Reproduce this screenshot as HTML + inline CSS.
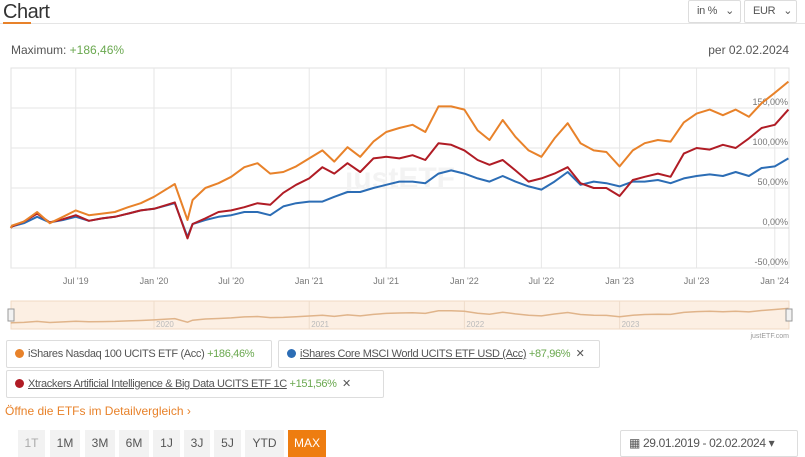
<!DOCTYPE html>
<html><head><meta charset="utf-8"><style>
body{margin:0;width:805px;height:457px;overflow:hidden;background:#fff;font-family:"Liberation Sans",sans-serif;color:#555;position:relative}
.a{position:absolute}
.box{position:absolute;border:1px solid #ddd;border-radius:2px;background:#fff;font-size:11px;letter-spacing:-0.35px;white-space:nowrap;overflow:hidden;color:#555;line-height:26px;padding-left:8px;box-sizing:border-box}
.dot{display:inline-block;width:9px;height:9px;border-radius:50%;margin-right:4px;vertical-align:-1px}
.g{color:#6aa84f}
.u{text-decoration:underline}
.btn{position:absolute;top:430px;height:27px;background:#f2f2f2;font-size:12px;color:#555;text-align:center;line-height:27px}
</style></head><body>
<div class="a" style="left:3px;top:0;font-size:20px;color:#333;line-height:24px;letter-spacing:-0.5px">Chart</div>
<div class="a" style="left:0;top:23px;width:805px;height:1px;background:#e5e5e5"></div>
<div class="a" style="left:3px;top:22px;width:28px;height:2px;background:#e8822a"></div>
<div class="box" style="left:688px;top:0;width:53px;height:23px;line-height:21px;font-size:11px">in % &nbsp;&nbsp;⌄</div>
<div class="box" style="left:744px;top:0;width:53px;height:23px;line-height:21px;font-size:11px">EUR &nbsp;&nbsp;⌄</div>
<div class="a" style="left:11px;top:43px;font-size:12px">Maximum: <span class="g">+186,46%</span></div>
<div class="a" style="right:16px;top:43px;font-size:12px">per 02.02.2024</div>
<svg class="a" style="left:0;top:0" width="805" height="345">
<g id="grid"></g><g id="lines"></g><g id="nav"></g>
</svg>
<div class="box" style="left:6px;top:340px;width:266px;height:28px"><span class="dot" style="background:#e8822a"></span>iShares Nasdaq 100 UCITS ETF (Acc) <span class="g">+186,46%</span></div>
<div class="box" style="left:278px;top:340px;width:322px;height:28px"><span class="dot" style="background:#2c6db5"></span><span class="u">iShares Core MSCI World UCITS ETF USD (Acc)</span> <span class="g">+87,96%</span> &nbsp;✕</div>
<div class="box" style="left:6px;top:370px;width:378px;height:28px"><span class="dot" style="background:#b01c25"></span><span class="u">Xtrackers Artificial Intelligence &amp; Big Data UCITS ETF 1C</span> <span class="g">+151,56%</span> &nbsp;✕</div>
<div class="a" style="left:5px;top:404px;font-size:12px;color:#e8822a">Öffne die ETFs im Detailvergleich ›</div>
<div class="btn" style="left:18px;width:27px;color:#aaa">1T</div>
<div class="btn" style="left:50px;width:30px">1M</div>
<div class="btn" style="left:85px;width:30px">3M</div>
<div class="btn" style="left:119px;width:30px">6M</div>
<div class="btn" style="left:153px;width:27px">1J</div>
<div class="btn" style="left:184px;width:26px">3J</div>
<div class="btn" style="left:214px;width:27px">5J</div>
<div class="btn" style="left:245px;width:39px">YTD</div>
<div class="btn" style="left:288px;width:38px;background:#ee7d10;color:#fff">MAX</div>
<div class="box" style="left:620px;top:430px;width:178px;height:27px;font-size:12px;line-height:25px">▦ 29.01.2019 - 02.02.2024 ▾</div>
<script>
const dates=["2019-01-29","2019-02-01","2019-03-01","2019-04-01","2019-05-01","2019-06-01","2019-07-01","2019-08-01","2019-09-01","2019-10-01","2019-11-01","2019-12-01",
"2020-01-01","2020-02-19","2020-03-20","2020-04-01","2020-05-01","2020-06-01","2020-07-01","2020-08-01","2020-09-01","2020-10-01","2020-11-01","2020-12-01",
"2021-01-01","2021-02-01","2021-03-01","2021-04-01","2021-05-01","2021-06-01","2021-07-01","2021-08-01","2021-09-01","2021-10-01","2021-11-01","2021-12-01",
"2022-01-01","2022-02-01","2022-03-01","2022-04-01","2022-05-01","2022-06-01","2022-07-01","2022-08-01","2022-09-01","2022-10-01","2022-11-01","2022-12-01",
"2023-01-01","2023-02-01","2023-03-01","2023-04-01","2023-05-01","2023-06-01","2023-07-01","2023-08-01","2023-09-01","2023-10-01","2023-11-01","2023-12-01",
"2024-01-01","2024-02-02"];
const nasdaq=[0,3,8,20,6,14,22,16,18,20,26,31,39,55,10,35,50,56,64,76,81,68,70,77,87,97,83,101,89,108,120,125,129,120,152,152,148,122,110,135,114,97,89,112,131,106,97,95,77,97,106,110,108,132,143,148,141,148,139,156,169,183];
const world=[0,2,6,14,7,10,14,9,12,14,18,22,24,31,-11,5,10,14,16,20,20,16,27,31,33,33,39,45,45,50,54,58,58,56,68,72,68,62,58,65,58,52,48,58,70,54,58,56,52,58,58,60,56,62,65,67,65,70,65,75,77,87];
const ai=[0,2,8,18,7,11,16,9,12,14,18,22,24,32,-13,5,12,20,22,26,31,29,44,54,62,76,68,81,70,87,89,87,91,85,106,104,97,85,79,85,72,58,62,68,76,56,50,50,40,60,64,68,64,93,100,98,104,100,112,125,129,148];
const yTicks=[150,100,50,0,-50];
const yTickLabels=["150,00%","100,00%","50,00%","0,00%","-50,00%"];
const xTicks=["2019-07-01","2020-01-01","2020-07-01","2021-01-01","2021-07-01","2022-01-01","2022-07-01","2023-01-01","2023-07-01","2024-01-01"];
const xTickLabels=["Jul '19","Jan '20","Jul '20","Jan '21","Jul '21","Jan '22","Jul '22","Jan '23","Jul '23","Jan '24"];
const navYears=["2020","2021","2022","2023"];

const NS="http://www.w3.org/2000/svg";
function yr(d){const t=new Date(d+"T00:00:00Z");const y=t.getUTCFullYear();return y+(t-Date.UTC(y,0,1))/(Date.UTC(y+1,0,1)-Date.UTC(y,0,1));}
const X=d=>154+(yr(d)-2020)*155.2;
const Y=v=>228-v*0.8;
function el(tag,attrs,parent,txt){const e=document.createElementNS(NS,tag);for(const k in attrs)e.setAttribute(k,attrs[k]);if(txt!==undefined)e.textContent=txt;parent.appendChild(e);return e;}
const grid=document.getElementById('grid');
const plot=el('rect',{x:11,y:68,width:778,height:200,fill:'none',stroke:'#e0e0e0'},grid);


xTicks.forEach((d,i)=>{
 const l=el('line',{x1:X(d),x2:X(d),y1:68,y2:268,stroke:'#e6e6e6'},grid);
 
 
 const t=el('text',{x:X(d),y:284,'font-size':9,fill:'#777','text-anchor':'middle'},grid,xTickLabels[i]);
 
 
});
yTicks.forEach((v,i)=>{
 const l=el('line',{x1:11,x2:789,y1:Y(v),y2:Y(v),stroke:v===0?'#cfcfcf':'#e6e6e6'},grid);
 
 
 const t=el('text',{x:788,y:Y(v)-3,'font-size':9,fill:'#777','text-anchor':'end'},grid,yTickLabels[i]);
 
 
});
const wm=el('text',{x:400,y:188,'font-size':30,'font-weight':'bold',fill:'#f3f3f3','text-anchor':'middle'},grid,'justETF');


const lines=document.getElementById('lines');
function series(vals,color,name){
 const pts=vals.map((v,i)=>X(dates[i]).toFixed(1)+','+Y(v).toFixed(1)).join(' ');
 const p=el('polyline',{points:pts,fill:'none',stroke:color,'stroke-width':2,'stroke-linejoin':'round'},lines);
 
 
}
series(world,'#2c6db5','line-msci-world');
series(ai,'#b01c25','line-xtrackers-ai');
series(nasdaq,'#e8822a','line-nasdaq');
const nav=document.getElementById('nav');
const nb=el('rect',{x:11,y:301,width:778,height:28,fill:'#fcefe3',stroke:'#f0d9c3'},nav);


const NY=v=>323-v*0.08;
navYears.forEach(y=>{
 const d=y+'-01-01';
 el('line',{x1:X(d),x2:X(d),y1:301,y2:329,stroke:'#eedccb'},nav);
 const t=el('text',{x:X(d)+2,y:327,'font-size':8,fill:'#bbb'},nav,y);
 
 
});
const np=el('polyline',{points:nasdaq.map((v,i)=>X(dates[i]).toFixed(1)+','+NY(v).toFixed(1)).join(' '),fill:'none',stroke:'#e0b48a','stroke-width':1.5},nav);


[11,789].forEach(x=>{
 const h=el('rect',{x:x-3,y:309,width:6,height:12,fill:'#f2f2f2',stroke:'#999'},nav);
 
 
});
const cr=el('text',{x:789,y:338,'font-size':7,fill:'#999','text-anchor':'end'},nav,'justETF.com');


</script>
</body></html>
